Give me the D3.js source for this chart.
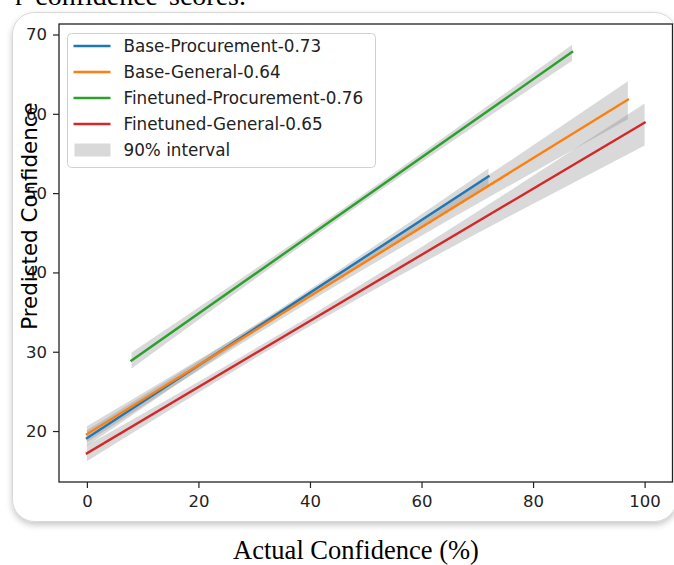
<!DOCTYPE html>
<html>
<head>
<meta charset="utf-8">
<script src="https://cdn.jsdelivr.net/npm/d3@7"></script>
<style>
  body { margin: 0; background: #fff; }
  svg { display: block; }
</style>
</head>
<body>
<script>
// values
var seriesNames = ["Base-Procurement-0.73", "Base-General-0.64", "Finetuned-Procurement-0.76", "Finetuned-General-0.65"];
var lineStart = [[0, 19.1], [0, 19.6], [8, 28.9], [0, 17.2]];
var lineEnd = [[72, 52.1], [97, 61.8], [87, 67.8], [100, 58.9]];
// 90% interval, sampled at start / narrowest / end
var bandX = [[0, 30, 72], [0, 35, 97], [8, 45, 87], [0, 35, 100]];
var bandLow = [[18.1, 32.4, 51.1], [18.6, 34.2, 59.3], [27.9, 46.6, 66.7], [16.2, 31.2, 56.0]];
var bandHigh = [[20.1, 33.3, 53.1], [20.6, 35.4, 64.1], [29.9, 47.6, 68.7], [18.2, 32.4, 61.3]];
var xTicks = [0, 20, 40, 60, 80, 100];
var yTicks = [20, 30, 40, 50, 60, 70];
var intervalLabel = "90% interval";
var xTitle = "Actual Confidence (%)";
var yTitle = "Predicted Confidence";
var captionTail = "r confidence scores.";

var colors = ["#1f77b4", "#ff7f0e", "#2ca02c", "#d62728"];

var width = 674, height = 565;
var plot = { left: 59, right: 672.5, top: 24, bottom: 482 };

var svg = d3.select("body").append("svg")
    .attr("width", width)
    .attr("height", height);

var defs = svg.append("defs");
var shadow = defs.append("filter").attr("id", "cardShadow")
    .attr("x", "-5%").attr("y", "-5%").attr("width", "110%").attr("height", "112%");
shadow.append("feDropShadow")
    .attr("dx", 0).attr("dy", 3)
    .attr("stdDeviation", 3)
    .attr("flood-color", "#000")
    .attr("flood-opacity", 0.22);

// cut-off sentence from the page above the figure
svg.append("text")
    .attr("x", 246).attr("y", 5)
    .attr("text-anchor", "end")
    .style("font-family", "'Liberation Serif', 'Times New Roman', serif")
    .style("font-size", "28px")
    .style("word-spacing", "4px")
    .attr("fill", "#000")
    .text(captionTail);

// figure card
svg.append("rect")
    .attr("x", 12.5).attr("y", 12.5)
    .attr("width", 664).attr("height", 509)
    .attr("rx", 22).attr("ry", 22)
    .attr("fill", "#fff")
    .attr("stroke", "#d8d8d8")
    .attr("stroke-width", 1)
    .attr("filter", "url(#cardShadow)");

// scales (matplotlib-like 5% margins)
var allLow = d3.min(bandLow, function (d) { return d3.min(d); });
var allHigh = d3.max(bandHigh, function (d) { return d3.max(d); });
var yPad = (allHigh - allLow) * 0.05;
var x = d3.scaleLinear().domain([-5, 105]).range([plot.left, plot.right]);
var y = d3.scaleLinear().domain([allLow - yPad, allHigh + yPad]).range([plot.bottom, plot.top]);

var g = svg.append("g");

// bands
var area = d3.area()
    .curve(d3.curveMonotoneX)
    .x(function (d) { return x(d[0]); })
    .y0(function (d) { return y(d[1]); })
    .y1(function (d) { return y(d[2]); });

seriesNames.forEach(function (name, i) {
    var pts = bandX[i].map(function (v, j) { return [v, bandLow[i][j], bandHigh[i][j]]; });
    g.append("path")
        .attr("d", area(pts))
        .attr("fill", "#808080")
        .attr("fill-opacity", 0.3);
});

// regression lines
var line = d3.line()
    .x(function (d) { return x(d[0]); })
    .y(function (d) { return y(d[1]); });

seriesNames.forEach(function (name, i) {
    g.append("path")
        .attr("d", line([lineStart[i], lineEnd[i]]))
        .attr("fill", "none")
        .attr("stroke", colors[i])
        .attr("stroke-width", 2.4)
        .attr("stroke-linecap", "square");
});

// axes
var xAxis = svg.append("g")
    .attr("transform", "translate(0," + plot.bottom + ")")
    .call(d3.axisBottom(x).tickValues(xTicks).tickSize(6).tickPadding(7).tickFormat(d3.format("d")));
var yAxis = svg.append("g")
    .attr("transform", "translate(" + plot.left + ",0)")
    .call(d3.axisLeft(y).tickValues(yTicks).tickSize(6).tickPadding(6).tickFormat(d3.format("d")));

[xAxis, yAxis].forEach(function (ax) {
    ax.select(".domain").remove();
    ax.selectAll(".tick line").attr("stroke", "#222").attr("stroke-width", 1.2);
    ax.selectAll(".tick text")
        .attr("fill", "#222")
        .style("font-family", "'DejaVu Sans', sans-serif")
        .style("font-size", "16.5px");
});

// frame
svg.append("rect")
    .attr("x", plot.left).attr("y", plot.top)
    .attr("width", plot.right - plot.left)
    .attr("height", plot.bottom - plot.top)
    .attr("fill", "none")
    .attr("stroke", "#222")
    .attr("stroke-width", 1.3);

// legend
var legend = svg.append("g").attr("transform", "translate(67.5,33.5)");
legend.append("rect")
    .attr("width", 308).attr("height", 134)
    .attr("rx", 4)
    .attr("fill", "#fff").attr("fill-opacity", 0.8)
    .attr("stroke", "#d0d0d0");

var rowH = 26;
seriesNames.forEach(function (name, i) {
    var ry = 12.5 + i * rowH;
    legend.append("line")
        .attr("x1", 6).attr("x2", 43)
        .attr("y1", ry).attr("y2", ry)
        .attr("stroke", colors[i])
        .attr("stroke-width", 2.4);
    legend.append("text")
        .attr("x", 56).attr("y", ry)
        .attr("dy", "0.36em")
        .attr("fill", "#222")
        .style("font-family", "'DejaVu Sans', sans-serif")
        .style("font-size", "16.8px")
        .text(name);
});
legend.append("rect")
    .attr("x", 7).attr("y", 12.5 + 4 * rowH - 6.5)
    .attr("width", 36).attr("height", 13)
    .attr("fill", "#808080").attr("fill-opacity", 0.3);
legend.append("text")
    .attr("x", 56).attr("y", 12.5 + 4 * rowH)
    .attr("dy", "0.36em")
    .attr("fill", "#222")
    .style("font-family", "'DejaVu Sans', sans-serif")
    .style("font-size", "16.8px")
    .text(intervalLabel);

// y title overlaid on the tick labels, as in the source figure
svg.append("text")
    .attr("transform", "translate(37,216) rotate(-90)")
    .attr("text-anchor", "middle")
    .attr("fill", "#000")
    .style("font-family", "'DejaVu Sans', sans-serif")
    .style("font-size", "21.4px")
    .text(yTitle);

// x title sits below the card, in the page's serif
svg.append("text")
    .attr("x", 356).attr("y", 559)
    .attr("text-anchor", "middle")
    .attr("fill", "#000")
    .style("font-family", "'Liberation Serif', 'Times New Roman', serif")
    .style("font-size", "26.5px")
    .text(xTitle);
</script>
</body>
</html>
